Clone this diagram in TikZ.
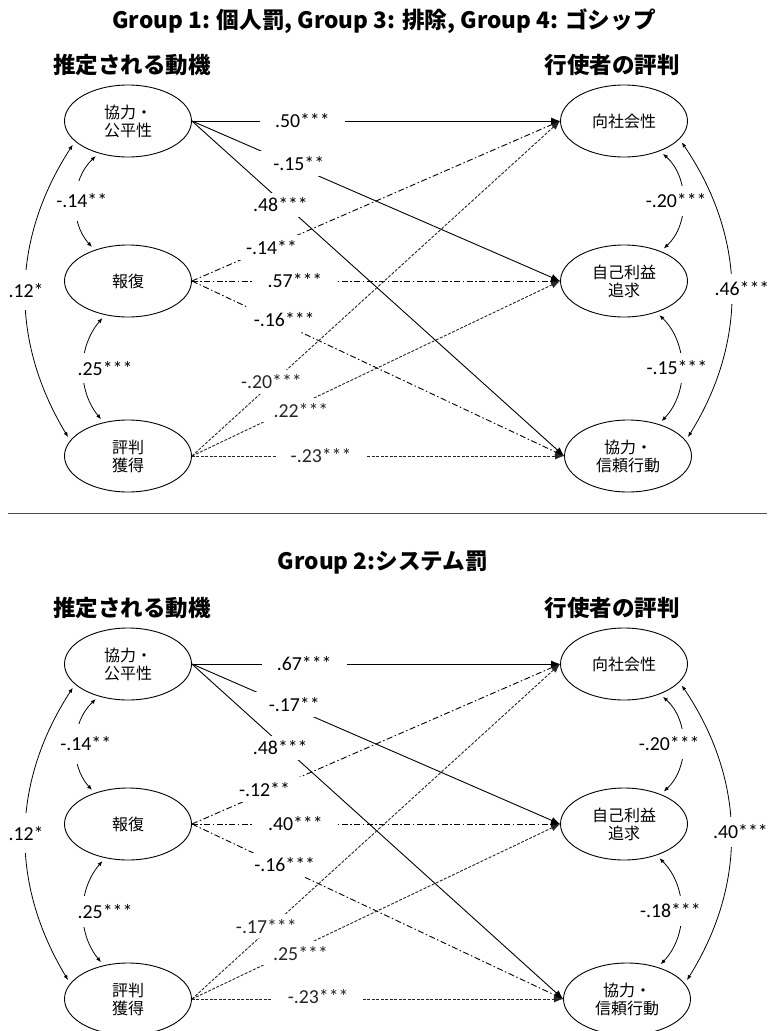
\documentclass[tikz,border=0pt]{standalone}
\usepackage{fontspec}
\setmainfont{Carlito}
\newfontfamily\jp{Noto Sans CJK JP}
\usetikzlibrary{arrows.meta,shapes.geometric}
\begin{document}
\begin{tikzpicture}[x=1pt,y=-1pt,
  var/.style={ellipse,draw,line width=0.9pt,minimum width=127pt,minimum height=72pt,inner sep=0pt,align=center,font=\jp\fontsize{16}{18}\selectfont},
  lab/.style={fill=white,inner xsep=15pt,inner ysep=5pt,font=\fontsize{19.8}{20}\selectfont},
  clab/.style={fill=white,inner xsep=1pt,inner ysep=8pt,font=\fontsize{19.8}{20}\selectfont},
  arr/.style={line width=0.9pt,-{Latex[length=9pt,width=7pt]}},
  solidpath/.style={arr},
  ddpath/.style={arr,dash pattern=on 6pt off 2.5pt on 1.5pt off 2.5pt},
  dspath/.style={arr,black!85,dash pattern=on 3pt off 1.5pt},
  corr/.style={line width=0.8pt,{Latex[length=5pt,width=4pt]}-{Latex[length=5pt,width=4pt]},shorten <=4pt,shorten >=4pt},
  ttl/.style={font=\jp\bfseries\fontsize{22.6}{24}\selectfont},
  hd/.style={font=\jp\bfseries\fontsize{22.5}{24}\selectfont}
]
\useasboundingbox (0,0) rectangle (769,1031);

% ================= TOP =================
\node[ttl] (t1) at (384,21) {Group 1: 個人罰, Group 3: 排除, Group 4: ゴシップ};
\node[hd] (hl1) at (132,65) {推定される動機};
\node[hd] (hr1) at (612,65) {行使者の評判};
\node[var] (a1) at (128,121) {協力・\\公平性};
\node[var] (b1) at (128,281) {報復};
\node[var] (c1) at (128,456) {評判\\獲得};
\node[var] (p1) at (624,121) {向社会性};
\node[var] (q1) at (624,281) {自己利益\\追求};
\node[var] (s1) at (628,456) {協力・\\信頼行動};

\draw[solidpath] (a1.east) -- node[lab,pos=.30]{.50***} (p1.west);
\draw[solidpath] (a1.east) -- node[lab,pos=.29,yshift=4pt]{-.15**} (q1.west);
\draw[solidpath] (a1.east) -- node[lab,pos=.238,yshift=-4pt]{.48***} (s1.west);
\draw[ddpath] (b1.east) -- node[lab,pos=.216,yshift=-1pt]{-.14**} (p1.west);
\draw[ddpath] (b1.east) -- node[lab,pos=.28]{.57***} (q1.west);
\draw[ddpath] (b1.east) -- node[lab,pos=.248,yshift=5pt]{-.16***} (s1.west);
\draw[dspath] (c1.east) -- node[lab,pos=.216,yshift=2pt]{-.20***} (p1.west);
\draw[dspath] (c1.east) -- node[lab,pos=.296,yshift=-6pt]{.22***} (q1.west);
\draw[dspath] (c1.east) -- node[lab,pos=.347]{-.23***} (s1.west);

\draw[corr] (a1.228) to[bend right=45] node[clab,xshift=5pt,inner ysep=13pt]{-.14**} (b1.137);
\draw[corr] (b1.236) to[bend right=40] node[clab,xshift=21pt]{.25***} (c1.126);
\draw[corr] (a1.201) to[bend right=32] node[clab,inner ysep=13pt]{.12*} (c1.165);
\draw[corr] (p1.320) to[bend left=48] node[clab,xshift=-6pt]{-.20***} (q1.39);
\draw[corr] (q1.316) to[bend left=45] node[clab,xshift=-4pt]{-.15***} (s1.46);
\draw[corr] (p1.342) to[bend left=33] node[clab,xshift=11pt]{.46***} (s1.15);

% separator
\coordinate (sl) at (8,513);
\coordinate (sr) at (767,513);
\draw[line width=1pt,black!70] (sl) -- (sr);

% ================= BOTTOM =================
\node[ttl] (t2) at (383,563) {Group 2:システム罰};
\node[hd] (hl2) at (132,608) {推定される動機};
\node[hd] (hr2) at (612,608) {行使者の評判};
\node[var] (a2) at (128,664) {協力・\\公平性};
\node[var] (b2) at (128,824) {報復};
\node[var] (c2) at (128,999) {評判\\獲得};
\node[var] (p2) at (624,664) {向社会性};
\node[var] (q2) at (624,824) {自己利益\\追求};
\node[var] (s2) at (627,999) {協力・\\信頼行動};

\draw[solidpath] (a2.east) -- node[lab,pos=.305]{.67***} (p2.west);
\draw[solidpath] (a2.east) -- node[lab,pos=.278,yshift=4pt]{-.17**} (q2.west);
\draw[solidpath] (a2.east) -- node[lab,pos=.238,yshift=-4pt]{.48***} (s2.west);
\draw[ddpath] (b2.east) -- node[lab,pos=.197,yshift=3pt]{-.12**} (p2.west);
\draw[ddpath] (b2.east) -- node[lab,pos=.281]{.40***} (q2.west);
\draw[ddpath] (b2.east) -- node[lab,pos=.25,yshift=3pt]{-.16***} (s2.west);
\draw[dspath] (c2.east) -- node[lab,pos=.202,yshift=5pt]{-.17***} (p2.west);
\draw[dspath] (c2.east) -- node[lab,pos=.295,yshift=-6pt]{.25***} (q2.west);
\draw[dspath] (c2.east) -- node[lab,pos=.34,yshift=2pt]{-.23***} (s2.west);

\draw[corr] (a2.228) to[bend right=45] node[clab,xshift=9pt,inner ysep=13pt]{-.14**} (b2.137);
\draw[corr] (b2.236) to[bend right=40] node[clab,xshift=21pt]{.25***} (c2.126);
\draw[corr] (a2.201) to[bend right=32] node[clab,inner ysep=13pt]{.12*} (c2.165);
\draw[corr] (p2.320) to[bend left=48] node[clab,xshift=-13pt]{-.20***} (q2.39);
\draw[corr] (q2.316) to[bend left=45] node[clab,xshift=-10pt]{-.18***} (s2.46);
\draw[corr] (p2.342) to[bend left=33] node[clab,xshift=10pt]{.40***} (s2.15);
\end{tikzpicture}
\end{document}
